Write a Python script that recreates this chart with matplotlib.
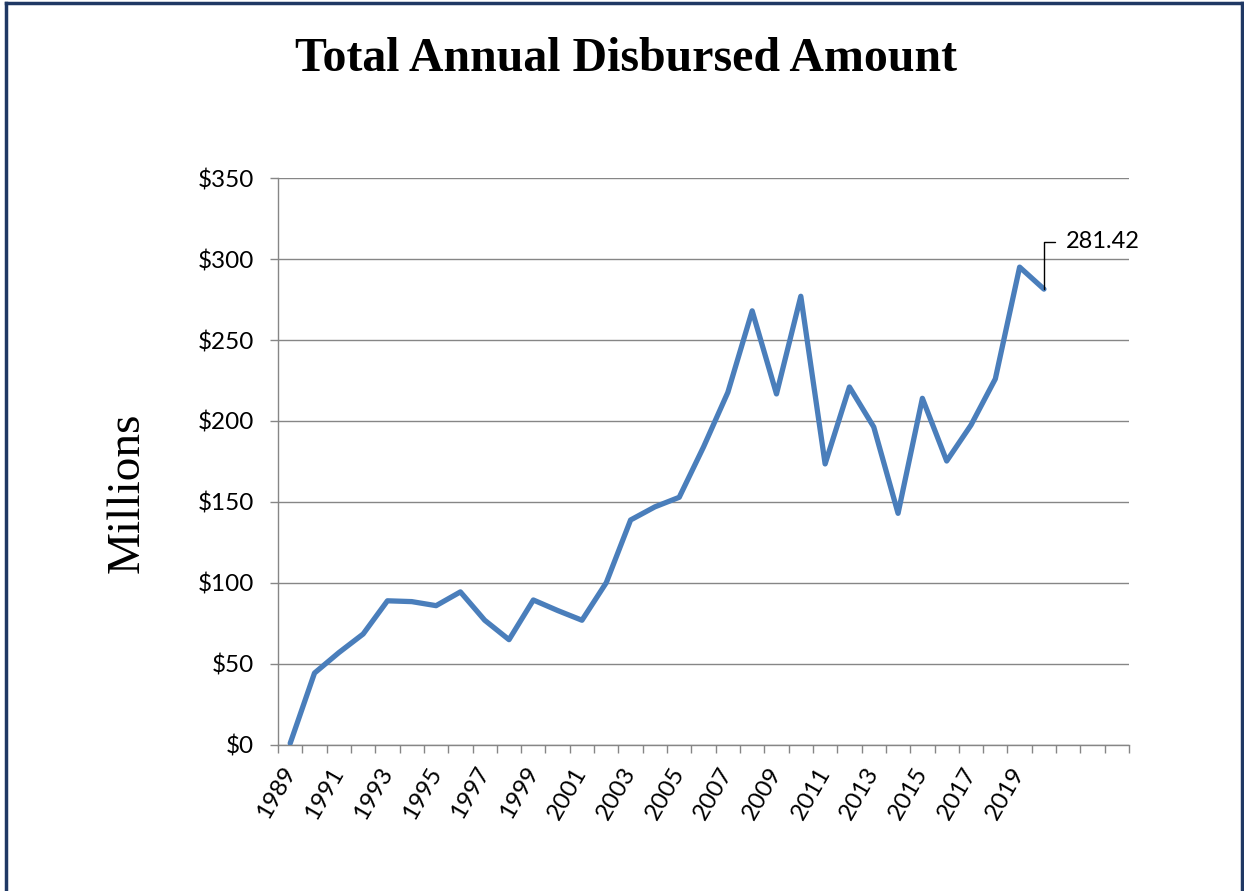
import matplotlib
matplotlib.use('Agg')
import matplotlib.pyplot as plt
from matplotlib.lines import Line2D
from matplotlib.ticker import FuncFormatter

# Categories on the x axis (Excel-style), values in millions of dollars
years = list(range(1989, 2024))
amounts = [1.0, 44.4, 57.0, 68.5, 89.0, 88.5, 86.0, 94.5, 77.0, 65.0,
           89.5, 83.0, 77.0, 100.2, 138.9, 147.0, 152.9, 184.0, 217.7, 268.0,
           216.7, 277.0, 173.5, 221.0, 196.3, 143.0, 214.0, 175.3, 197.5, 226.0,
           295.0, 281.42]
last_label = '281.42'
label_years = [y for y in years if y % 2 == 1 and y <= 2019]

blue = '#4A7EBB'
grey = '#868686'
navy = '#1F3864'

fig = plt.figure(figsize=(12.44, 8.91), dpi=100)
ax = fig.add_axes([0.2235, 0.1639, 0.6841, 0.6363])

xs = list(range(len(amounts)))
ax.plot(xs, amounts, color=blue, lw=3.8, solid_joinstyle='round',
        solid_capstyle='round', zorder=3)

ax.set_xlim(-0.5, len(years) - 0.5)
ax.set_ylim(0, 350)
ax.set_yticks(range(0, 351, 50))
ax.yaxis.set_major_formatter(FuncFormatter(lambda v, p: '${:,.0f}'.format(v)))
ax.grid(axis='y', color=grey, lw=1.0)
ax.set_axisbelow(True)

# tick marks between categories, labels at category centres
ax.set_xticks([i - 0.5 for i in range(len(years) + 1)], minor=True)
ax.set_xticks([years.index(y) for y in label_years])
ax.set_xticklabels([str(y) for y in label_years], rotation=60,
                   ha='right', va='center', rotation_mode='anchor')
ax.tick_params(axis='x', which='major', length=0, pad=17, labelsize=17.5)
ax.tick_params(axis='x', which='minor', length=5.5, width=1.0, color=grey)
ax.tick_params(axis='y', length=5.5, width=1.0, color=grey, pad=12, labelsize=17.5)
for lab in ax.get_xticklabels() + ax.get_yticklabels():
    lab.set_fontfamily('Lato')

for s in ['top', 'right']:
    ax.spines[s].set_visible(False)
for s in ['left', 'bottom']:
    ax.spines[s].set_color(grey)
    ax.spines[s].set_linewidth(1.0)

# data label on the last point
ax.annotate(last_label, xy=(xs[-1], amounts[-1]), xytext=(16, 34),
            textcoords='offset points', fontsize=17, family='Lato',
            ha='left', va='center',
            arrowprops=dict(arrowstyle='-', color='black', lw=1.0,
                            connectionstyle='angle,angleA=180,angleB=90,rad=0',
                            relpos=(0, 0.5), shrinkA=6, shrinkB=0))

fig.text(0.503, 0.934, 'Total Annual Disbursed Amount', ha='center', va='center',
         family='Liberation Serif', fontweight='bold', fontsize=34.5)
fig.text(0.102, 0.447, 'Millions', rotation=90, ha='center', va='center',
         family='Liberation Serif', fontsize=34)

# dark frame around the chart
for xy in [([0.005, 0.005], [0, 0.997]), ([0.005, 0.9985], [0.997, 0.997]),
           ([0.9985, 0.9985], [0.997, 0])]:
    fig.add_artist(Line2D(xy[0], xy[1], color=navy, lw=2.5, transform=fig.transFigure))

fig.savefig('out.png', dpi=100)
